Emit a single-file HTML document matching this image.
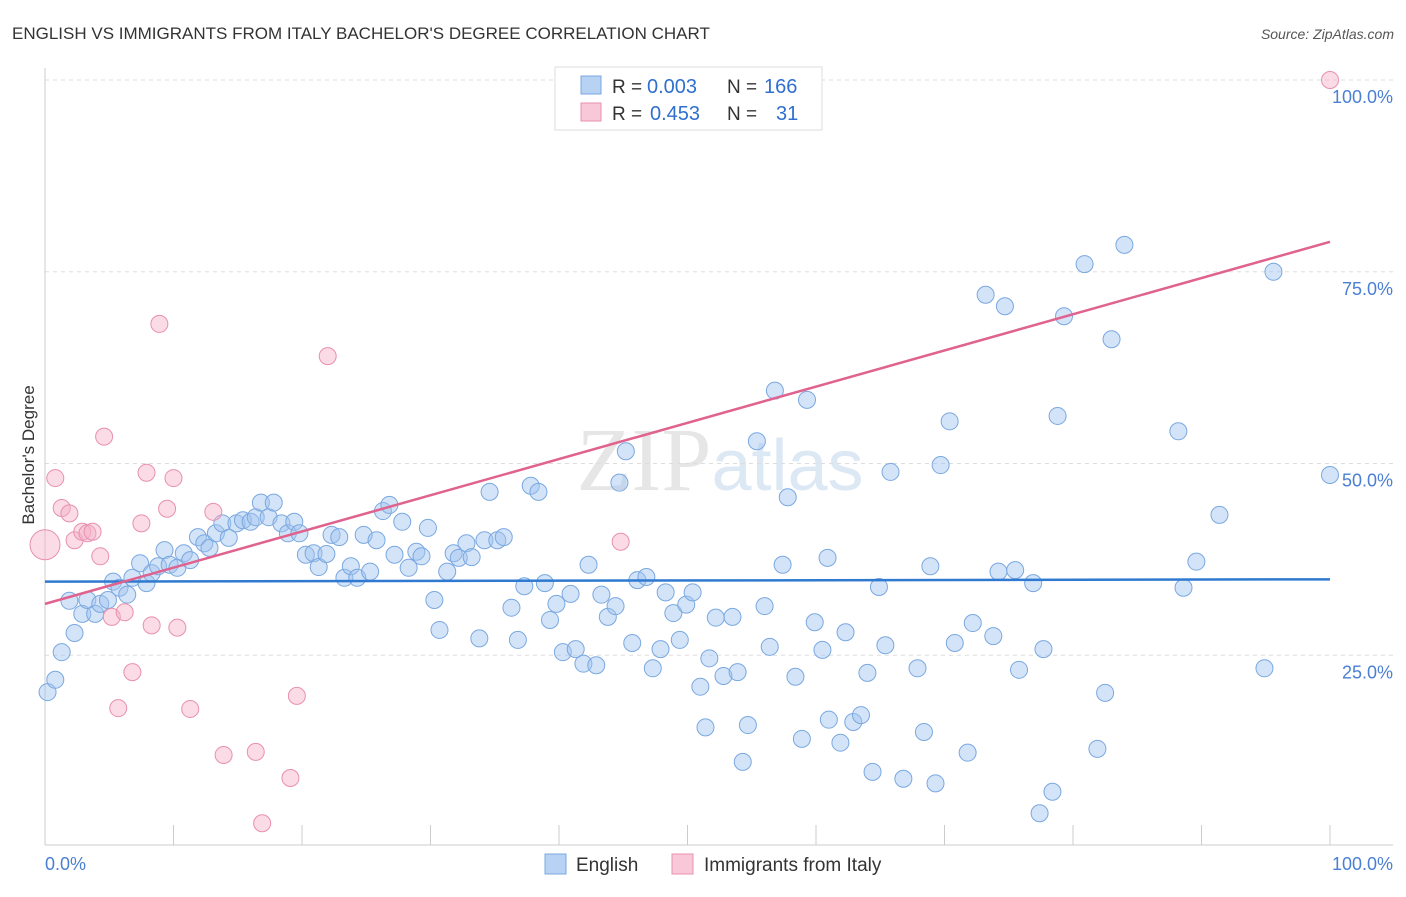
<!DOCTYPE html>
<html><head><meta charset="utf-8"><style>
body{margin:0;background:#fff;font-family:"Liberation Sans",sans-serif;}
</style></head><body>
<svg id="chart" width="1406" height="892" xmlns="http://www.w3.org/2000/svg">
<text x="12" y="39" font-size="17" fill="#333">ENGLISH VS IMMIGRANTS FROM ITALY BACHELOR'S DEGREE CORRELATION CHART</text>
<text x="1394" y="39" font-size="14" fill="#555" text-anchor="end" font-style="italic">Source: ZipAtlas.com</text>
<text x="720" y="490" font-size="90" fill="#e6e6e6" text-anchor="middle" font-family="Liberation Serif">ZIP<tspan fill="#dde8f5" font-family="Liberation Sans" font-size="72">atlas</tspan></text>
<text transform="translate(34,455) rotate(-90)" font-size="17" fill="#333" text-anchor="middle">Bachelor's Degree</text>
<g id="grid"></g><g id="pts"></g><g id="lines"></g>
<g>
<rect x="555" y="67" width="267" height="63" fill="#fff" stroke="#ddd"/>
<rect x="581" y="76" width="20" height="18" fill="#b8d2f4" stroke="#7aa8e0"/>
<text x="612" y="93" font-size="19" fill="#333">R =</text>
<text x="647" y="93" font-size="20" fill="#2f6fd0">0.003</text>
<text x="727" y="93" font-size="19" fill="#333">N =</text>
<text x="764" y="93" font-size="20" fill="#2f6fd0">166</text>
<rect x="581" y="103" width="20" height="18" fill="#f8c8d8" stroke="#e890b0"/>
<text x="612" y="120" font-size="19" fill="#333">R =</text>
<text x="650" y="120" font-size="20" fill="#2f6fd0">0.453</text>
<text x="727" y="120" font-size="19" fill="#333">N =</text>
<text x="776" y="120" font-size="20" fill="#2f6fd0">31</text>
</g>
<g>
<rect x="545" y="854" width="21" height="20" fill="#b8d2f4" stroke="#7aa8e0"/>
<text x="576" y="871" font-size="19" fill="#333">English</text>
<rect x="672" y="854" width="21" height="20" fill="#f8c8d8" stroke="#e890b0"/>
<text x="704" y="871" font-size="19" fill="#333">Immigrants from Italy</text>
</g>
</svg>
<script>
const yTicks=[25,50,75,100];
const yTickLabels=["25.0%","50.0%","75.0%","100.0%"];
const xTickVals=[0,10,20,30,40,50,60,70,80,90,100];
const blueX=[0.2,0.8,1.3,1.9,2.3,2.9,3.3,3.9,4.3,4.9,5.3,5.8,6.4,6.8,7.4,7.9,8.3,8.8,9.3,9.7,10.3,10.8,11.3,11.9,12.4,12.8,13.3,13.8,14.3,14.9,15.4,16.0,16.4,16.8,17.4,17.8,18.4,18.9,19.4,19.8,20.3,20.9,21.3,21.9,22.3,22.9,23.3,23.8,24.3,24.8,25.3,25.8,26.3,26.8,27.2,27.8,28.3,28.9,29.3,29.8,30.3,30.7,31.3,31.8,32.2,32.8,33.2,33.8,34.2,34.6,35.2,35.7,36.3,36.8,37.3,37.8,38.4,38.9,39.3,39.8,40.3,40.9,41.3,41.9,42.3,42.9,43.3,43.8,44.4,44.7,45.2,45.7,46.1,46.8,47.3,47.9,48.3,48.9,49.4,49.9,50.4,51.0,51.4,51.7,52.2,52.8,53.5,53.9,54.3,54.7,55.4,56.0,56.4,56.8,57.4,57.8,58.4,58.9,59.3,59.9,60.5,61.0,60.9,61.9,62.3,62.9,63.5,64.0,64.4,64.9,65.4,65.8,66.8,67.9,68.4,68.9,69.3,69.7,70.4,70.8,71.8,72.2,73.2,74.2,73.8,74.7,75.5,75.8,76.9,77.4,77.7,78.4,78.8,79.3,80.9,81.9,82.5,83.0,84.0,88.2,88.6,89.6,91.4,94.9,95.6,100];
const blueY=[20.2,21.8,25.4,32.1,27.9,30.4,32.2,30.4,31.7,32.2,34.6,33.8,32.9,35.1,37.0,34.4,35.7,36.6,38.7,36.8,36.4,38.3,37.4,40.4,39.6,39.0,40.9,42.2,40.3,42.2,42.6,42.4,43.0,44.9,43.0,44.9,42.2,40.9,42.4,40.9,38.1,38.3,36.5,38.2,40.7,40.4,35.1,36.6,35.1,40.7,35.9,40.0,43.8,44.6,38.1,42.4,36.4,38.5,37.9,41.6,32.2,28.3,35.9,38.3,37.7,39.6,37.8,27.2,40.0,46.3,40.0,40.4,31.2,27.0,34.0,47.1,46.3,34.4,29.6,31.7,25.4,33.0,25.8,23.9,36.8,23.7,32.9,30.0,31.4,47.5,51.6,26.6,34.8,35.2,23.3,25.8,33.2,30.5,27.0,31.6,33.2,20.9,15.6,24.6,29.9,22.3,30.0,22.8,11.1,15.9,52.9,31.4,26.1,59.5,36.8,45.6,22.2,14.1,58.3,29.3,25.7,16.6,37.7,13.6,28.0,16.3,17.2,22.7,9.8,33.9,26.3,48.9,8.9,23.3,15.0,36.6,8.3,49.8,55.5,26.6,12.3,29.2,72.0,35.9,27.5,70.5,36.1,23.1,34.4,4.4,25.8,7.2,56.2,69.2,76.0,12.8,20.1,66.2,78.5,54.2,33.8,37.2,43.3,23.3,75.0,48.5];
const pinkX=[0,0.8,1.3,1.9,2.3,2.9,3.3,3.7,4.3,4.6,5.2,5.7,6.2,6.8,7.5,7.9,8.3,8.9,9.5,10.0,10.3,11.3,13.1,13.9,16.4,16.9,19.1,19.6,22.0,44.8,100];
const pinkY=[39.4,48.1,44.2,43.5,40.0,41.1,40.9,41.1,37.9,53.5,30.0,18.1,30.6,22.8,42.2,48.8,28.9,68.2,44.1,48.1,28.6,18.0,43.7,12.0,12.4,3.1,9.0,19.7,64.0,39.8,100];
const blueTrend=[34.6,34.9];
const pinkTrend=[31.7,78.9];
const NS="http://www.w3.org/2000/svg";
const X=v=>45+v*12.85, Y=v=>847-v*7.67;
function mk(tag,attrs,parent){const e=document.createElementNS(NS,tag);for(const k in attrs)e.setAttribute(k,attrs[k]);parent.appendChild(e);return e;}
const grid=document.getElementById('grid');
yTicks.forEach((t,i)=>{
 const l=mk('line',{x1:45,x2:1393,y1:Y(t),y2:Y(t),stroke:'#ddd','stroke-dasharray':'4,4'},grid);
 
 
 const tx=mk('text',{x:1393,y:Y(t)+23,'font-size':18,fill:'#4a7fd4','text-anchor':'end'},grid);
 tx.textContent=yTickLabels[i];
 
 
});
const ax=mk('line',{x1:45,x2:1393,y1:845,y2:845,stroke:'#ccc'},grid);


const ay=mk('line',{x1:45,x2:45,y1:68,y2:845,stroke:'#ccc'},grid);


xTickVals.forEach(t=>{const l=mk('line',{x1:X(t),x2:X(t),y1:825,y2:845,stroke:'#ccc'},grid);
 
 });
let t0=mk('text',{x:45,y:870,'font-size':18,fill:'#4a7fd4'},grid);t0.textContent='0.0%';


let t1=mk('text',{x:1393,y:870,'font-size':18,fill:'#4a7fd4','text-anchor':'end'},grid);t1.textContent='100.0%';


const pts=document.getElementById('pts');
blueX.forEach((x,i)=>{const c=mk('circle',{cx:X(x),cy:Y(blueY[i]),r:8.5,fill:'rgba(160,196,240,0.45)',stroke:'#7aa8e0','stroke-width':1},pts);
 
 });
pinkX.forEach((x,i)=>{const c=mk('circle',{cx:X(x),cy:Y(pinkY[i]),r:i===0?15:8.5,fill:'rgba(245,175,200,0.45)',stroke:'#e890b0','stroke-width':1},pts);
 
 });
const lines=document.getElementById('lines');
const bl=mk('line',{x1:X(0),x2:X(100),y1:Y(blueTrend[0]),y2:Y(blueTrend[1]),stroke:'#2f7ad0','stroke-width':2.5},lines);


const pl=mk('line',{x1:X(0),x2:X(100),y1:Y(pinkTrend[0]),y2:Y(pinkTrend[1]),stroke:'#e0628e','stroke-width':2.5},lines);


</script>
</body></html>
